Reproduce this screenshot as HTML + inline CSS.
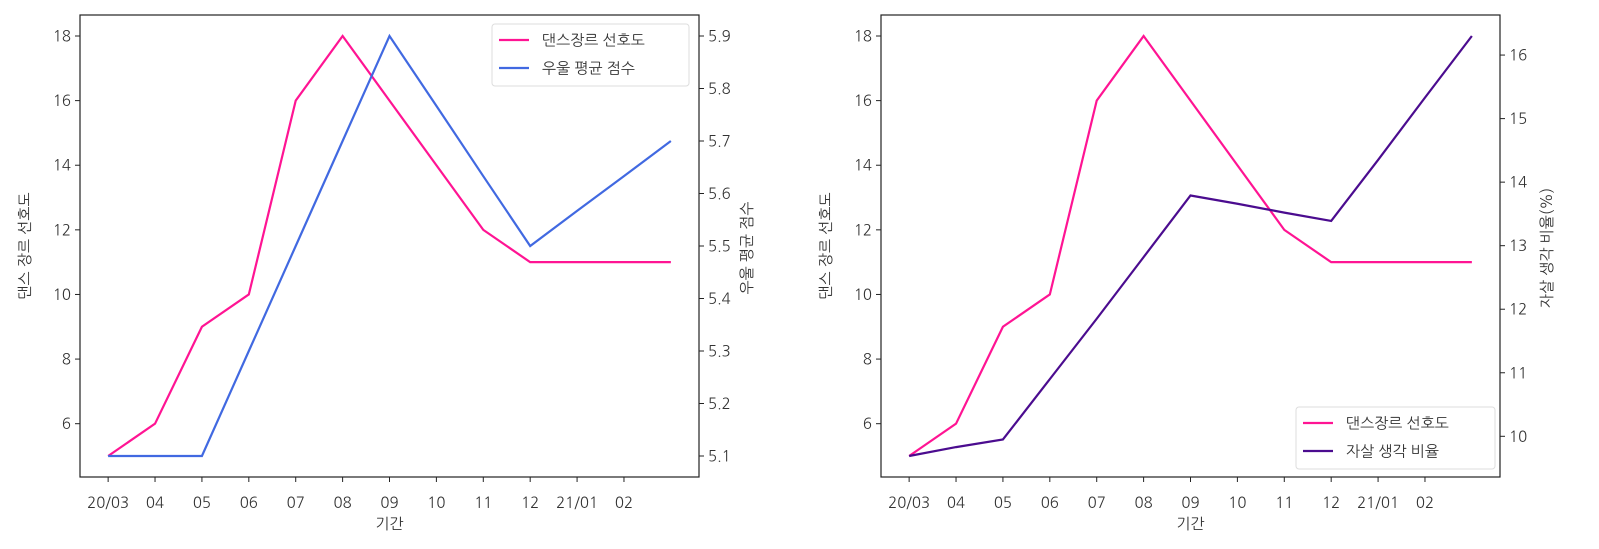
<!DOCTYPE html>
<html><head><meta charset="utf-8">
<style>
html,body{margin:0;padding:0;background:#fff;}
svg{display:block;font-family:"NanumGothic","Liberation Sans","Noto Sans CJK KR",sans-serif;}
</style></head>
<body>
<svg id="chart" width="1599" height="549" viewBox="0 0 1599 549" xmlns="http://www.w3.org/2000/svg"></svg>
<script>
const categories = ["20/03","04","05","06","07","08","09","10","11","12","21/01","02",""];
const tickLabels = ["20/03","04","05","06","07","08","09","10","11","12","21/01","02"];
const danceValues = [5,6,9,10,16,18,16,14,12,11,11,11,11];
const depressionValues = [5.1,5.1,5.1,5.3,5.5,5.7,5.9,5.767,5.633,5.5,5.567,5.633,5.7];
const suicideValues = [9.69,9.83,9.95,10.9,11.85,12.82,13.79,13.66,13.52,13.39,14.35,15.33,16.3];
const danceTicks = [6,8,10,12,14,16,18];
const depressionTicks = [5.1,5.2,5.3,5.4,5.5,5.6,5.7,5.8,5.9];
const suicideTicks = [10,11,12,13,14,15,16];

const NS = "http://www.w3.org/2000/svg";
const svg = document.getElementById('chart');
function mk(tag, attrs, parent){
  const e = document.createElementNS(NS, tag);
  for (const k in attrs) e.setAttribute(k, attrs[k]);
  (parent||svg).appendChild(e);
  return e;
}
function ext(v){const mn=Math.min(...v),mx=Math.max(...v),p=(mx-mn)*0.05;return [mn-p,mx+p];}
const TOP=15, BOT=477, N=categories.length;

function drawPanel(x0, x1, leftVals, rightVals, rightTicks, rightColor, leftLabel, rightLabel, rightLabelX, legendBox, leftName, rightName){
  const g = mk('g', {});
  
  
  const xs = i => x0 + (i + 0.6) / (N - 1 + 1.2) * (x1 - x0);
  const [la, lb] = ext(leftVals);
  const [ra, rb] = ext(rightVals);
  const yl = v => BOT - (v - la) / (lb - la) * (BOT - TOP);
  const yr = v => BOT - (v - ra) / (rb - ra) * (BOT - TOP);
  const fr = mk('rect', {x:x0, y:TOP, width:x1-x0, height:BOT-TOP, fill:'none', stroke:'#222', 'stroke-width':1.2}, g);
  
  
  tickLabels.forEach((t,i)=>{
    const x = xs(i);
    mk('line', {x1:x, x2:x, y1:BOT, y2:BOT+5, stroke:'#222'}, g);
    const tx = mk('text', {x:x, y:508, 'font-size':15, fill:'#333', 'text-anchor':'middle'}, g);
    tx.textContent = t;
    
    
  });
  danceTicks.forEach(t=>{
    const y = yl(t);
    mk('line', {x1:x0-5, x2:x0, y1:y, y2:y, stroke:'#222'}, g);
    const tx = mk('text', {x:x0-9, y:y+5.5, 'font-size':15, fill:'#333', 'text-anchor':'end'}, g);
    tx.textContent = t;
    
    
  });
  rightTicks.forEach(t=>{
    const y = yr(t);
    mk('line', {x1:x1, x2:x1+5, y1:y, y2:y, stroke:'#222'}, g);
    const tx = mk('text', {x:x1+9, y:y+5.5, 'font-size':15, fill:'#333'}, g);
    tx.textContent = t;
    
    
  });
  const xl = mk('text', {x:(x0+x1)/2, y:529, 'font-size':15, fill:'#333', 'text-anchor':'middle'}, g);
  xl.textContent = '기간';
  
  
  const ly = mk('text', {x:0, y:0, 'font-size':15, fill:'#333', 'text-anchor':'middle', transform:`translate(${x0-50},246) rotate(-90)`}, g);
  ly.textContent = leftLabel;
  
  
  const ry = mk('text', {x:0, y:0, 'font-size':15, fill:'#333', 'text-anchor':'middle', transform:`translate(${rightLabelX},248) rotate(-90)`}, g);
  ry.textContent = rightLabel;
  
  
  const p1 = mk('polyline', {points: leftVals.map((v,i)=>xs(i)+','+yl(v)).join(' '), fill:'none', stroke:'#ff1493', 'stroke-width':2.2}, g);
  
  
  const p2 = mk('polyline', {points: rightVals.map((v,i)=>xs(i)+','+yr(v)).join(' '), fill:'none', stroke:rightColor, 'stroke-width':2.2}, g);
  
  
  const [lx, ly0, lw, lh] = legendBox;
  const lg = mk('g', {}, g);
  
  
  mk('rect', {x:lx, y:ly0, width:lw, height:lh, rx:3, fill:'#fff', 'fill-opacity':0.85, stroke:'#ddd'}, lg);
  [[ '#ff1493', leftName ], [ rightColor, rightLabel === '우울 평균 점수' ? '우울 평균 점수' : '자살 생각 비율' ]].forEach((e,k)=>{
    const yy = ly0 + 16 + k*28;
    mk('line', {x1:lx+7, x2:lx+37, y1:yy, y2:yy, stroke:e[0], 'stroke-width':2.2}, lg);
    const t = mk('text', {x:lx+50, y:yy+5.5, 'font-size':15, fill:'#333'}, lg);
    t.textContent = e[1];
    
    
  });
}
drawPanel(80, 699, danceValues, depressionValues, depressionTicks, '#4169e1', '댄스 장르 선호도', '우울 평균 점수', 752, [492, 24, 197, 62], '댄스장르 선호도', 'depression-score');
drawPanel(881, 1500, danceValues, suicideValues, suicideTicks, '#4b0c8f', '댄스 장르 선호도', '자살 생각 비율(%)', 1552, [1296, 407, 199, 62], '댄스장르 선호도', 'suicide-ratio');
</script>
</body></html>
